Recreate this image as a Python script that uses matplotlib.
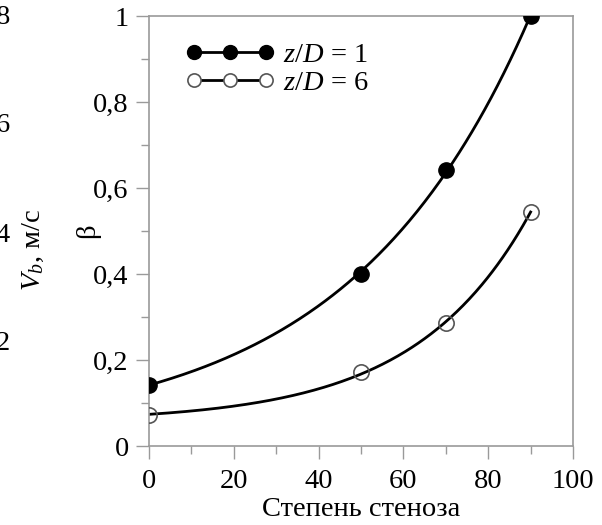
import numpy as np
import matplotlib
matplotlib.use("Agg")
import matplotlib.pyplot as plt
from matplotlib.ticker import MultipleLocator, FixedLocator

plt.rcParams['font.family'] = 'Liberation Serif'
plt.rcParams['mathtext.fontset'] = 'custom'
plt.rcParams['mathtext.rm'] = 'Liberation Serif'
plt.rcParams['mathtext.it'] = 'Liberation Serif:italic'

# степень стеноза, %
stenosis = [0, 50, 70, 90]
beta_z1 = [0.143, 0.40, 0.642, 1.0]
beta_z6 = [0.072, 0.172, 0.285, 0.545]

yticks = [0, 0.2, 0.4, 0.6, 0.8, 1.0]
ytick_labels = ['0', '0,2', '0,4', '0,6', '0,8', '1']
xticks = [0, 20, 40, 60, 80, 100]

# cropped neighbour panel on the left
left_ticks = ['8', '6', '4', '2']
left_tick_y = [17, 126, 235, 344]

FS = 20.5
GRAY = '#9a9a9a'


def exp_fit(x, y):
    # y = a + b*exp(c*x), c by grid search, a and b by least squares
    x = np.asarray(x, float)
    y = np.asarray(y, float)
    best = None
    for c in np.linspace(0.001, 0.08, 800):
        A = np.column_stack([np.ones_like(x), np.exp(c * x)])
        sol, *_ = np.linalg.lstsq(A, y, rcond=None)
        err = np.sum((A @ sol - y) ** 2)
        if best is None or err < best[0]:
            best = (err, sol[0], sol[1], c)
    _, a, b, c = best
    return lambda t: a + b * np.exp(c * t)


fig = plt.figure(figsize=(6.02, 5.25), dpi=100)
ax = fig.add_axes([149 / 602, 79 / 525, 424 / 602, 430 / 525])

xs = np.linspace(0, 90, 300)
for ys in (beta_z1, beta_z6):
    f = exp_fit(stenosis, ys)
    ax.plot(xs, f(xs), color='black', lw=2.0, zorder=2)

# markers + legend handles
ax.plot(stenosis, beta_z1, 'o', color='black', ms=11, zorder=3)
ax.plot(stenosis, beta_z6, 'o', mfc='none', mec='#555555', mew=1.2, ms=11, zorder=3)
h1, = ax.plot([], [], '-o', color='black', lw=2, ms=10)
h2, = ax.plot([], [], '-o', color='black', lw=2, ms=9.5, mfc='white', mec='#555555', mew=1.2)
leg = ax.legend([h1, h2], [r'$z/D$ = 1', r'$z/D$ = 6'], loc='upper left',
                numpoints=3, frameon=False, fontsize=FS, handlelength=3.1,
                handletextpad=0.3, labelspacing=0.05,
                bbox_to_anchor=(0.06, 0.965), borderaxespad=0)

ax.set_xlim(0, 100)
ax.set_ylim(0, 1)
ax.xaxis.set_major_locator(FixedLocator(xticks))
ax.xaxis.set_minor_locator(MultipleLocator(10))
ax.yaxis.set_major_locator(FixedLocator(yticks))
ax.yaxis.set_minor_locator(MultipleLocator(0.1))
ax.set_yticklabels(ytick_labels)
ax.set_xticklabels([str(v) for v in xticks])

for s in ax.spines.values():
    s.set_color(GRAY)
    s.set_linewidth(1.2)
ax.tick_params(which='major', direction='out', length=9.5, width=1.0, color=GRAY,
               labelsize=FS)
ax.tick_params(axis='x', which='major', pad=7)
ax.tick_params(axis='y', which='major', pad=5)
ax.tick_params(which='minor', direction='out', length=5.5, width=1.0, color=GRAY)
for lab in ax.get_xticklabels() + ax.get_yticklabels():
    lab.set_clip_on(False)

ax.set_xlabel('Степень стеноза', fontsize=FS, labelpad=2)
fig.text(88 / 602, 1 - 231 / 525, 'β', fontsize=FS, rotation=90,
         ha='center', va='center')

# pieces of the neighbouring plot, cut by the image edge
for t, yp in zip(left_ticks, left_tick_y):
    fig.text(10 / 602, 1 - yp / 525, t, fontsize=FS, ha='right', va='center')
fig.text(33 / 602, 1 - 250 / 525, r'$V_b$, м/с', fontsize=FS, rotation=90,
         ha='center', va='center')

fig.savefig('out.png', dpi=100)
